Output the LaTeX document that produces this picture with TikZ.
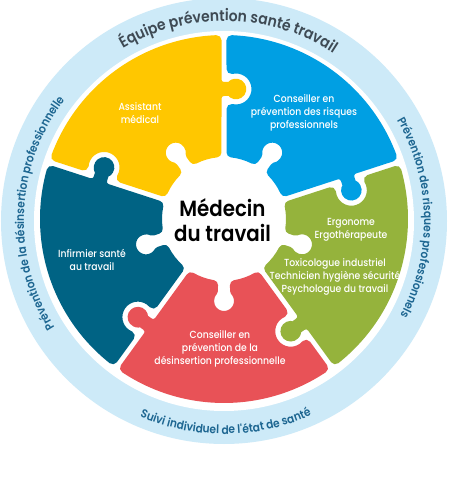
\documentclass[tikz,border=0pt]{standalone}
\usepackage{fontspec}
\setmainfont{Poppins}
\newfontfamily\medf{Poppins Medium}[FakeStretch=0.9]
\newfontfamily\semif{Poppins SemiBold}[FakeStretch=0.9]
\usetikzlibrary{decorations.text}
\definecolor{pyellow}{HTML}{FFC700}
\definecolor{pblue}{HTML}{009FE3}
\definecolor{pgreen}{HTML}{95B33C}
\definecolor{pred}{HTML}{E85257}
\definecolor{pdark}{HTML}{006384}
\definecolor{ringblue}{HTML}{CDEAF8}
\definecolor{ringgray}{HTML}{3E4A54}
\definecolor{ringtext}{HTML}{1D6691}
\newcommand\puzzlepiece[2]{%
  \begin{scope}[rotate=#2]
    \path[fill=#1,draw=#1,line width=10pt,line join=round]
      (-29.57:67) -- ([rotate=-36]120.5,7.5)
      arc[start angle=54, end angle=-36, radius=7.5]
      -- ([rotate=-36]128,-6.88)
      arc[start angle=75.3, end angle=392.7, radius=5.5]
      -- ([rotate=-36]132,0)
      arc[start angle=144, end angle=54, radius=7.5]
      -- (-33.60:179)
      arc[start angle=-33.60, end angle=33.60, radius=179]
      -- ([rotate=36]150,-7.5)
      arc[start angle=48.68, end angle=-156.68, radius=20.5]
      -- (29.57:67)
      arc[start angle=29.57, end angle=9.45, radius=67]
      -- (71.8,11)
      arc[start angle=132.8, end angle=-132.8, radius=15]
      -- (-9.45:67)
      arc[start angle=-9.45, end angle=-29.57, radius=67]
      -- cycle;
  \end{scope}}
\tikzset{
  lbl/.style={text=white, font=\medf\fontsize{10.3}{13}\selectfont, align=center, inner sep=0pt},
  ringtop/.style={decorate, decoration={text along path, text align=center, text color=ringgray,
     text={|\semif\fontsize{15.5}{18}\selectfont|Équipe prévention santé travail}}},
}
\begin{document}
\begin{tikzpicture}[x=1pt,y=1pt]
\useasboundingbox (-224,-281) rectangle (224,219);
\fill[white] (-224,-281) rectangle (224,219);
% outer ring
\fill[ringblue] (0,-2) circle[radius=223];
\fill[white] (0,-2) circle[radius=190];
% ring texts
\begin{scope}[shift={(0,-2)}]
\path[ringtop] (178.6:200) arc[start angle=178.6, end angle=-1.4, radius=200];
\path[decorate, decoration={text along path, text align=center, text color=ringtext,
     text={|\semif\fontsize{11.8}{14}\selectfont|Prévention des risques professionnels}}]
  (91:200) arc[start angle=91, end angle=-89, radius=200];
\path[decorate, decoration={text along path, text align=center, text color=ringtext,
     text={|\semif\fontsize{11.8}{14}\selectfont|Prévention de la désinsertion professionnelle}}]
  (267.5:200) arc[start angle=267.5, end angle=87.5, radius=200];
\path[decorate, decoration={text along path, text align=center, text color=ringtext,
     text={|\semif\fontsize{11.8}{14}\selectfont|Suivi individuel de l'état de santé}}]
  (-179.5:213) arc[start angle=-179.5, end angle=0.5, radius=213];
\end{scope}
% puzzle pieces
\puzzlepiece{pyellow}{126}
\puzzlepiece{pblue}{54}
\puzzlepiece{pgreen}{-18}
\puzzlepiece{pred}{-90}
\puzzlepiece{pdark}{198}
% labels
\node[lbl] (assist) at (-84,106) {Assistant\\médical};
\node[lbl] (crp) at (80,106) {Conseiller en\\prévention des risques\\professionnels};
\node[lbl] (ergo) at (127,-10.5) {Ergonome\\Ergothérapeute};
\node[lbl] (toxi) at (111,-58) {Toxicologue industriel\\Technicien hygiène sécurité\\Psychologue du travail};
\node[lbl] (infirm) at (-132,-40.5) {Infirmier santé\\au travail};
\node[lbl] (cpdp) at (-4,-130) {Conseiller en\\prévention de la\\désinsertion professionnelle};
\node[font=\semif\fontsize{22}{25}\selectfont, align=center, inner sep=0pt, text=black] (medecin) at (-1.5,-1) {Médecin\\du travail};
\end{tikzpicture}
\end{document}
